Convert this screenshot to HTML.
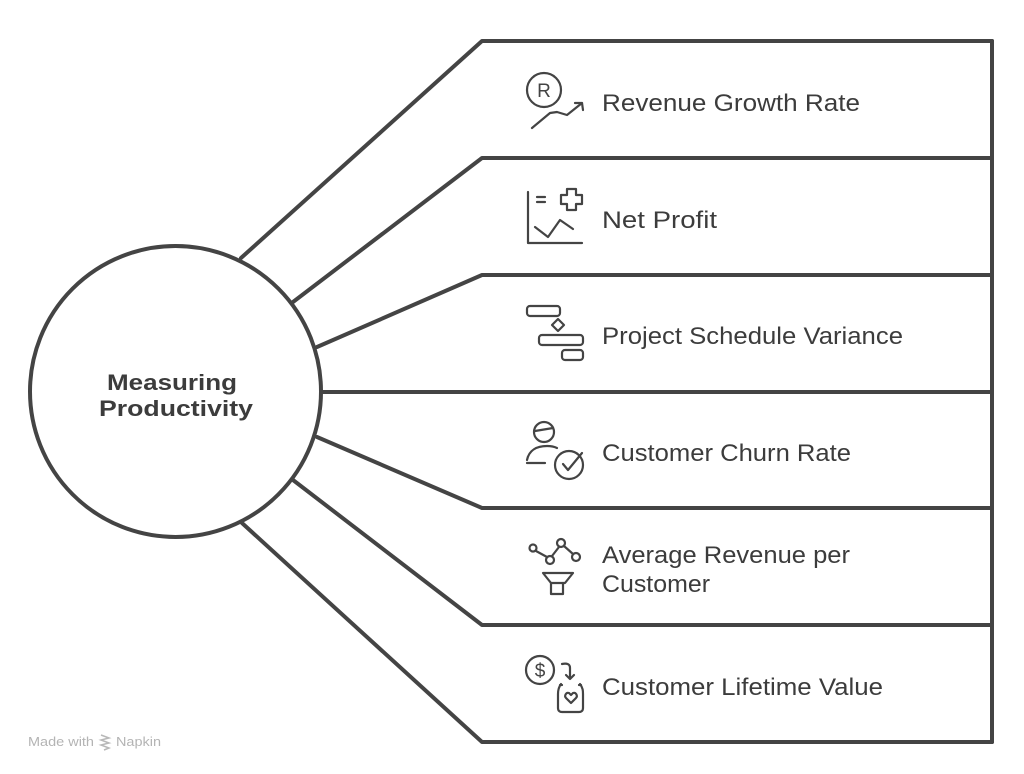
<!DOCTYPE html>
<html><head><meta charset="utf-8"><style>
html,body{margin:0;padding:0;background:#fff;}
svg{display:block;}
text{font-family:"Liberation Sans",sans-serif;fill:#3c3c3c;}
</style></head><body>
<svg width="1024" height="774" viewBox="0 0 1024 774" xmlns="http://www.w3.org/2000/svg">
<g fill="none" stroke="#444" stroke-width="4" stroke-linecap="round" stroke-linejoin="round">
  <circle cx="175.5" cy="391.5" r="145.5"/>
  <polyline points="241,258 482,41 992,41"/>
  <polyline points="293,302 482,158 992,158"/>
  <polyline points="317,347 482,275 992,275"/>
  <polyline points="321,392 992,392"/>
  <polyline points="317,437 482,508 992,508"/>
  <polyline points="293,480 482,625 992,625"/>
  <polyline points="242,523 482,742 992,742"/>
  <line x1="992" y1="41" x2="992" y2="742"/>
</g>
<text x="172" y="390" font-size="22" font-weight="bold" text-anchor="middle" textLength="130" lengthAdjust="spacingAndGlyphs">Measuring</text>
<text x="176" y="416" font-size="22" font-weight="bold" text-anchor="middle" textLength="154" lengthAdjust="spacingAndGlyphs">Productivity</text>

<g font-size="24">
<text x="602" y="111" textLength="258" lengthAdjust="spacingAndGlyphs">Revenue Growth Rate</text>
<text x="602" y="228" textLength="115" lengthAdjust="spacingAndGlyphs">Net Profit</text>
<text x="602" y="344" textLength="301" lengthAdjust="spacingAndGlyphs">Project Schedule Variance</text>
<text x="602" y="461" textLength="249" lengthAdjust="spacingAndGlyphs">Customer Churn Rate</text>
<text x="602" y="563" textLength="248" lengthAdjust="spacingAndGlyphs">Average Revenue per</text>
<text x="602" y="592" textLength="108" lengthAdjust="spacingAndGlyphs">Customer</text>
<text x="602" y="695" textLength="281" lengthAdjust="spacingAndGlyphs">Customer Lifetime Value</text>
</g>

<g fill="none" stroke="#444" stroke-width="2.2" stroke-linecap="round" stroke-linejoin="round">
  <circle cx="544" cy="90" r="17"/>
  <text x="544" y="97" font-size="19" text-anchor="middle" stroke="none" style="fill:#444">R</text>
  <polyline points="532,128 550,113 557,112 567,115 582,103"/>
  <polyline points="575,103 582,103 583,110"/>
  <polyline points="528,192 528,243 582,243"/>
  <line x1="537" y1="197" x2="545" y2="197"/>
  <line x1="537" y1="202" x2="545" y2="202"/>
  <path d="M567,189 h9 v6 h6 v9 h-6 v6 h-9 v-6 h-6 v-9 h6 z"/>
  <polyline points="535,227 548,237 560,220 573,229"/>
  <rect x="527" y="306" width="33" height="10" rx="3"/>
  <path d="M558,319 l6,6 l-6,6 l-6,-6 z"/>
  <rect x="539" y="335" width="44" height="10" rx="3"/>
  <rect x="562" y="350" width="21" height="10" rx="3"/>
  <circle cx="544" cy="432" r="10"/>
  <line x1="535" y1="431" x2="553" y2="428"/>
  <path d="M527,463 h18 M527,460 c2,-10 10,-14 20,-14 c4,0 8,1 10,2"/>
  <circle cx="569" cy="465" r="14"/>
  <polyline points="563,464 568,470 582,453"/>
  <circle cx="533" cy="548" r="3.5"/>
  <circle cx="550" cy="560" r="4"/>
  <circle cx="561" cy="543" r="4"/>
  <circle cx="576" cy="557" r="4"/>
  <line x1="536" y1="551" x2="547" y2="557"/>
  <line x1="552" y1="556" x2="559" y2="547"/>
  <line x1="564" y1="546" x2="573" y2="554"/>
  <path d="M543,573 h30 l-8,10 h-14 z"/>
  <path d="M551,583 v11 h12 v-11"/>
  <circle cx="540" cy="670" r="14"/>
  <text x="540" y="677" font-size="19" text-anchor="middle" stroke="none" style="fill:#444">$</text>
  <path d="M562,664 c5,-1 8,0 8,4 v10"/>
  <polyline points="566,675 570,679 574,675"/>
  <path d="M560,685 h2 M579,685 h2 M561,684 c-3,4 -3,8 -3,10 v14 c0,3 2,4 4,4 h17 c2,0 4,-1 4,-4 v-14 c0,-3 0,-6 -3,-10"/>
  <path d="M571,703 l-5,-5 c-2,-2 0,-6 3,-5 l2,2 l2,-2 c3,-1 5,3 3,5 z"/>
</g>

<g>
  <text x="28" y="746" font-size="12.5" style="fill:#b4b4b4" textLength="66" lengthAdjust="spacingAndGlyphs">Made with</text>
  <path d="M101,735 l8,3 l-8,2 l8,3 l-8,2 l8,3 l-5,2" fill="none" stroke="#b8b8b8" stroke-width="1.5"/>
  <text x="116" y="746" font-size="12.5" style="fill:#b4b4b4" textLength="45" lengthAdjust="spacingAndGlyphs">Napkin</text>
</g>
</svg>
</body></html>
